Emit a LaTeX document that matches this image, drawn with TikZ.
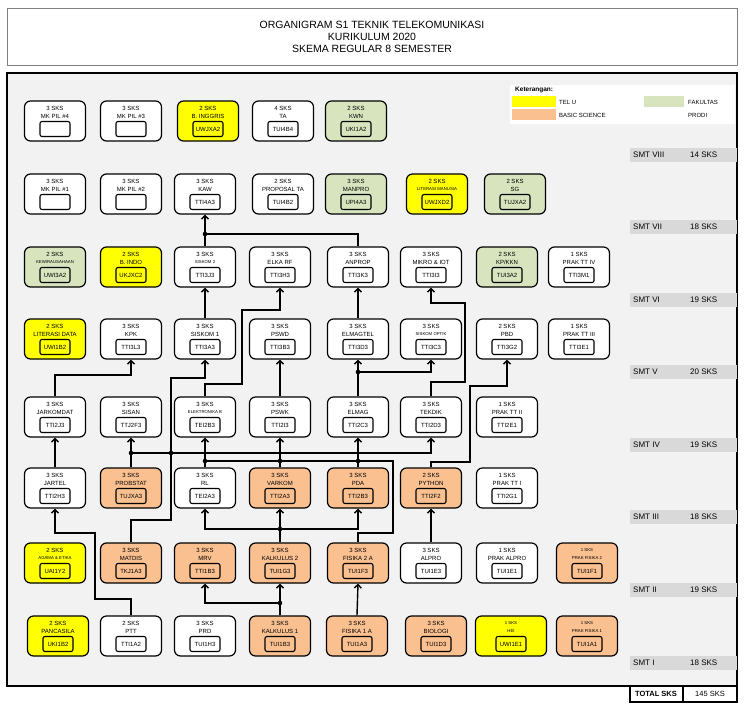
\documentclass[tikz,border=0pt]{standalone}
\usepackage{fontspec}
\setmainfont{Liberation Sans}
\usetikzlibrary{arrows.meta}
\definecolor{telu}{HTML}{FFFF00}
\definecolor{bsc}{HTML}{FAC090}
\definecolor{fak}{HTML}{D7E4BD}
\definecolor{bg}{HTML}{F2F2F2}
\definecolor{band}{HTML}{D9D9D9}
\tikzset{
 box/.style={draw,line width=1.2pt,rounded corners=6pt,minimum height=40pt,inner sep=0pt},
 codebox/.style={draw,line width=1.1pt,rounded corners=2pt,minimum width=30pt,minimum height=15pt,inner sep=0pt,font=\fontsize{6}{6}\selectfont},
 lbl/.style={inner sep=0pt,font=\fontsize{6}{6}\selectfont},
 arr/.style={line width=1.4pt,-{Straight Barb[length=3.5pt,width=7pt]}},
 ln/.style={line width=1.4pt},
 smt/.style={inner sep=0pt,anchor=west,font=\fontsize{8}{8}\selectfont},
}
\newcommand\sm[1]{{\fontsize{4.3}{4.3}\selectfont #1}}
\newcommand\crs[8][61]{%
 \node[box,fill=#8,minimum width=#1pt] (#2) at (#3,#4) {};
 \node[lbl] at (#3,#4-13) {#5};
 \node[lbl] at (#3,#4-5) {#6};
 \node[codebox,fill=#8] (#2c) at (#3,#4+8) {#7};
}
\newcommand\jdot[1]{\fill #1 circle (2.3pt);}
\begin{document}
\begin{tikzpicture}[x=1pt,y=-1pt]
\useasboundingbox (0,0) rectangle (744,707);
\fill[white] (0,0) rectangle (744,707);
% title
\draw[gray] (7,8) rectangle (737,65);
\node[font=\fontsize{10.5}{12}\selectfont,align=center] (title) at (372,37) {ORGANIGRAM S1 TEKNIK TELEKOMUNIKASI\\KURIKULUM 2020\\SKEMA REGULAR 8 SEMESTER};
% main frame
\fill[bg] (7,73) rectangle (737,686);
\draw[line width=1.8pt] (7,73) rectangle (737,686);
% total
\draw[line width=1.4pt] (630,686) rectangle (683,702) (683,686) rectangle (737,702);
\node[font=\bfseries\fontsize{7.5}{8}\selectfont] (tot) at (656,694) {TOTAL SKS};
\node[font=\fontsize{7.5}{8}\selectfont] (totv) at (710,694) {145 SKS};
% legend
\fill[white] (510,85) rectangle (735,124);
\node[inner sep=0pt,anchor=west,font=\bfseries\fontsize{6.5}{7}\selectfont] (ket) at (515,90) {Keterangan:};
\fill[telu] (512,96) rectangle (556,107);
\fill[bsc] (512,109) rectangle (556,120);
\fill[fak] (644,96) rectangle (684,107);
\node[lbl,anchor=west] (lg1) at (559,102) {TEL U};
\node[lbl,anchor=west] (lg2) at (559,115) {BASIC SCIENCE};
\node[lbl,anchor=west] (lg3) at (688,102) {FAKULTAS};
\node[lbl,anchor=west] (lg4) at (688,115) {PRODI};
% semester bands
\foreach \y/\s/\k in {155/VIII/14,227/VII/18,300/VI/19,372/V/20,445/IV/19,517/III/18,590/II/19,663/I/18}{
 \fill[band] (630,\y-7) rectangle (737,\y+7);
 \node[smt] at (633,\y) {SMT \s};
 \node[smt] at (690,\y) {\k\ SKS};
}
% row 8
\crs{p4}{55}{121}{3 SKS}{MK PIL \#4}{\phantom{TTI0A0}}{white}
\crs{p3}{131}{121}{3 SKS}{MK PIL \#3}{\phantom{TTI0A0}}{white}
\crs{bing}{208}{121}{2 SKS}{B. INGGRIS}{UWJXA2}{telu}
\crs{ta}{283}{121}{4 SKS}{TA}{TUI4B4}{white}
\crs{kwn}{356}{121}{2 SKS}{KWN}{UKI1A2}{fak}
% row 7
\crs{p1}{55}{194}{3 SKS}{MK PIL \#1}{\phantom{TTI0A0}}{white}
\crs{p2}{131}{194}{3 SKS}{MK PIL \#2}{\phantom{TTI0A0}}{white}
\crs{kaw}{205}{194}{3 SKS}{KAW}{TTI4A3}{white}
\crs{prop}{283}{194}{2 SKS}{PROPOSAL TA}{TUI4B2}{white}
\crs{manpro}{356}{194}{3 SKS}{MANPRO}{UPI4A3}{fak}
\crs{litm}{437}{194}{2 SKS}{\sm{LITERASI MANUSIA}}{UWJXD2}{telu}
\crs{sg}{515}{194}{2 SKS}{SG}{TUJXA2}{fak}
% row 6
\crs{kwu}{55}{267}{2 SKS}{\sm{KEWIRAUSAHAAN}}{UWI3A2}{fak}
\crs{bindo}{131}{267}{2 SKS}{B. INDO}{UKJXC2}{telu}
\crs{sk2}{205}{267}{3 SKS}{\sm{SISKOM 2}}{TTI3J3}{white}
\crs{elkarf}{280}{267}{3 SKS}{ELKA RF}{TTI3H3}{white}
\crs{anprop}{358}{267}{3 SKS}{ANPROP}{TTI3K3}{white}
\crs{mikro}{431}{267}{3 SKS}{MIKRO \& IOT}{TTI3I3}{white}
\crs{kp}{507}{267}{2 SKS}{KP/KKN}{TUI3A2}{fak}
\crs{ptt4}{579}{267}{1 SKS}{PRAK TT IV}{TTI3M1}{white}
% row 5
\crs{litd}{55}{339}{2 SKS}{LITERASI DATA}{UWI1B2}{telu}
\crs{kpk}{131}{339}{3 SKS}{KPK}{TTI3L3}{white}
\crs{sk1}{205}{339}{3 SKS}{SISKOM 1}{TTI3A3}{white}
\crs{pswd}{280}{339}{3 SKS}{PSWD}{TTI3B3}{white}
\crs{elmt}{358}{339}{3 SKS}{ELMAGTEL}{TTI3D3}{white}
\crs{skopt}{431}{339}{3 SKS}{\sm{SISKOM OPTIK}}{TTI3C3}{white}
\crs{pbd}{507}{339}{2 SKS}{PBD}{TTI3G2}{white}
\crs{ptt3}{579}{339}{1 SKS}{PRAK TT III}{TTI3E1}{white}
% row 4
\crs{jkd}{55}{417}{3 SKS}{JARKOMDAT}{TTI2J3}{white}
\crs{sisan}{131}{417}{3 SKS}{SISAN}{TTJ2F3}{white}
\crs{elb}{205}{417}{3 SKS}{\sm{ELEKTRONIKA B}}{TEI2B3}{white}
\crs{pswk}{280}{417}{3 SKS}{PSWK}{TTI2I3}{white}
\crs{elmag}{358}{417}{3 SKS}{ELMAG}{TTI2C3}{white}
\crs{tekdik}{431}{417}{3 SKS}{TEKDIK}{TTI2D3}{white}
\crs{ptt2}{507}{417}{1 SKS}{PRAK TT II}{TTI2E1}{white}
% row 3
\crs{jartel}{55}{488}{3 SKS}{JARTEL}{TTI2H3}{white}
\crs{probstat}{131}{488}{3 SKS}{PROBSTAT}{TUJXA3}{bsc}
\crs{rl}{205}{488}{3 SKS}{RL}{TEI2A3}{white}
\crs{var}{280}{488}{3 SKS}{VARKOM}{TTI2A3}{bsc}
\crs{pda}{358}{488}{3 SKS}{PDA}{TTI2B3}{bsc}
\crs{python}{431}{488}{2 SKS}{PYTHON}{TTI2F2}{bsc}
\crs{ptt1}{507}{488}{1 SKS}{PRAK TT I}{TTI2G1}{white}
% row 2
\crs{agama}{55}{563}{2 SKS}{\sm{AGAMA \& ETIKA}}{UAI1Y2}{telu}
\crs{matdis}{131}{563}{3 SKS}{MATDIS}{TKJ1A3}{bsc}
\crs{mrv}{205}{563}{3 SKS}{MRV}{TTI1B3}{bsc}
\crs{kal2}{280}{563}{3 SKS}{KALKULUS 2}{TUI1G3}{bsc}
\crs{fis2}{358}{563}{3 SKS}{FISIKA 2 A}{TUI1F3}{bsc}
\crs{alpro}{431}{563}{3 SKS}{ALPRO}{TUI1E3}{white}
\crs{palpro}{507}{563}{1 SKS}{PRAK ALPRO}{TUI1E1}{white}
\crs{pf2}{587}{563}{\sm{1 SKS}}{\sm{PRAK FISIKA 2}}{TUI1F1}{bsc}
% row 1
\crs{panc}{58}{636}{2 SKS}{PANCASILA}{UKI1B2}{telu}
\crs{ptt}{131}{636}{2 SKS}{PTT}{TTI1A2}{white}
\crs{prd}{205}{636}{3 SKS}{PRD}{TUI1H3}{white}
\crs{kal1}{280}{636}{3 SKS}{KALKULUS 1}{TUI1B3}{bsc}
\crs{fis1}{357}{636}{3 SKS}{FISIKA 1 A}{TUI1A3}{bsc}
\crs{bio}{436}{636}{3 SKS}{BIOLOGI}{TUI1D3}{bsc}
\crs[71]{hei}{511}{636}{\sm{1 SKS}}{\sm{HEI}}{UWI1E1}{telu}
\crs{pf1}{587}{636}{\sm{1 SKS}}{\sm{PRAK FISIKA 1}}{TUI1A1}{bsc}
% connectors
\draw[arr] (sk2.north) -- (kaw.south);
\draw[ln] (anprop.north) |- (205,234); \jdot{(205,234)}
\draw[arr] (sk1.north) -- (sk2.south);
\draw[arr] (elb.north) |- (242,384) |- (280,310) -- (elkarf.south);
\draw[arr] (pswk.north) -- (pswd.south);
\draw[arr] (elmag.north) -- (elmt.south);
\draw[arr] (358,372) -| (skopt.south); \jdot{(358,372)}
\draw[arr] (elmt.north) -- (anprop.south);
\draw[arr] (tekdik.north) |- (465,382) |- (431,303) -- (mikro.south);
\draw[arr] (jkd.north) |- (131,375) -- (kpk.south);
\draw[arr] (matdis.north) |- (171,520) |- (205,378) -- (sk1.south);
\draw[arr] (probstat.north) -- (sisan.south);
\draw[arr] (131,453) -| (tekdik.south); \jdot{(131,453)} \jdot{(171,453)}
\draw[arr] (rl.north) -- (elb.south);
\draw[arr] (var.north) -- (pswk.south);
\draw[arr] (pda.north) -- (elmag.south);
\draw[ln] (fis2.north) |- (393,533) |- (205,461);
\jdot{(205,461)} \jdot{(280,461)} \jdot{(358,461)}
\draw[arr] (kal2.north) -- (var.south);
\draw[arr] (280,529) -| (rl.south);
\draw[arr] (280,529) -| (pda.south); \jdot{(280,529)}
\draw[arr] (kal1.north) -- (kal2.south);
\draw[arr] (280,603) -| (mrv.south); \jdot{(280,603)}
\draw[arr] (fis1.north) -- (fis2.south);
\draw[arr] (ptt.north) |- (95,599) |- (55,533) -- (jartel.south);
\draw[arr] (jartel.north) -- (jkd.south);
\draw[arr] (alpro.north) -- (python.south);
\draw[arr] (python.north) |- (470,462) |- (507,386) -- (pbd.south);
\end{tikzpicture}
\end{document}
